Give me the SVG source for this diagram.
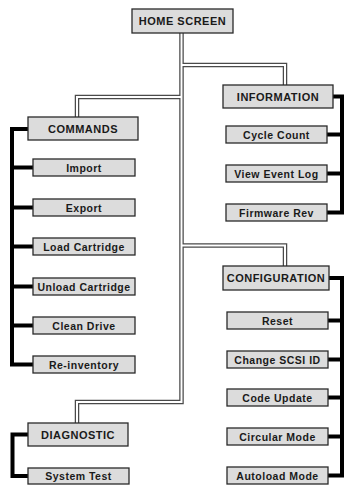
<svg xmlns="http://www.w3.org/2000/svg" width="347" height="485" viewBox="0 0 347 485">
<style>
.bg{fill:#fff}
.tw{fill:none;stroke:#4a4a4a;stroke-width:4.5;stroke-linejoin:miter}
.tw2{fill:none;stroke:#fff;stroke-width:2;stroke-linejoin:miter}
.bus{fill:none;stroke:#000;stroke-width:4;stroke-linejoin:miter}
.box{fill:#dcdcdc;stroke:#2a2a2a;stroke-width:1.3}
.hd{font-family:"Liberation Sans",Arial,sans-serif;font-weight:bold;font-size:11px;letter-spacing:0.5px;fill:#1a1a1a;text-anchor:middle}
.it{font-family:"Liberation Sans",Arial,sans-serif;font-weight:bold;font-size:10.5px;letter-spacing:0.5px;fill:#1a1a1a;text-anchor:middle}
</style>
<rect class="bg" x="0" y="0" width="347" height="485"/>
<g id="connectors">
<path class="tw" d="M181.5,33 V402 H77 V423"/>
<path class="tw" d="M181.5,97 H77 V117"/>
<path class="tw" d="M181.5,65 H285 V85"/>
<path class="tw" d="M181.5,245.5 H285 V266"/>
<path class="tw2" d="M181.5,33 V402 H77 V423"/>
<path class="tw2" d="M181.5,97 H77 V117"/>
<path class="tw2" d="M181.5,65 H285 V85"/>
<path class="tw2" d="M181.5,245.5 H285 V266"/>
<path class="bus" d="M28,129 H12 V364.5 H33 M12,167.5 H33 M12,207.5 H33 M12,246.5 H33 M12,286.5 H33 M12,325.5 H33"/>
<path class="bus" d="M333,96.5 H342 V212.5 H327 M342,134.5 H327 M342,173.5 H327"/>
<path class="bus" d="M329,278 H342 V475.5 H328 M342,320.5 H328 M342,359.5 H328 M342,397.5 H328 M342,436.5 H328"/>
<path class="bus" d="M28,434.5 H12.5 V476 H28"/>
</g>
<g id="home"><rect class="box" x="132" y="9" width="101" height="24"/><text class="hd" x="182.5" y="25">HOME SCREEN</text></g>
<g id="information"><rect class="box" x="223" y="85" width="110" height="23"/><text class="hd" x="278" y="100.5">INFORMATION</text></g>
<g id="cycle"><rect class="box" x="226" y="126" width="101" height="17"/><text class="it" x="276.5" y="138.5">Cycle Count</text></g>
<g id="eventlog"><rect class="box" x="226" y="165" width="101" height="17"/><text class="it" x="276.5" y="177.5">View Event Log</text></g>
<g id="firmware"><rect class="box" x="226" y="204" width="101" height="17"/><text class="it" x="276.5" y="216.5">Firmware Rev</text></g>
<g id="commands"><rect class="box" x="28" y="117" width="110" height="23"/><text class="hd" x="83" y="132.5">COMMANDS</text></g>
<g id="import"><rect class="box" x="33" y="159" width="102" height="17"/><text class="it" x="84" y="171.5">Import</text></g>
<g id="export"><rect class="box" x="33" y="199" width="102" height="17"/><text class="it" x="84" y="211.5">Export</text></g>
<g id="load"><rect class="box" x="33" y="238" width="102" height="17"/><text class="it" x="84" y="250.5">Load Cartridge</text></g>
<g id="unload"><rect class="box" x="33" y="278" width="102" height="17"/><text class="it" x="84" y="290.5">Unload Cartridge</text></g>
<g id="clean"><rect class="box" x="33" y="317" width="102" height="17"/><text class="it" x="84" y="329.5">Clean Drive</text></g>
<g id="reinventory"><rect class="box" x="33" y="356" width="102" height="17"/><text class="it" x="84" y="368.5">Re-inventory</text></g>
<g id="configuration"><rect class="box" x="223" y="266" width="106" height="24"/><text class="hd" x="276" y="282">CONFIGURATION</text></g>
<g id="reset"><rect class="box" x="227" y="312" width="101" height="17"/><text class="it" x="277.5" y="324.5">Reset</text></g>
<g id="scsi"><rect class="box" x="227" y="351" width="101" height="17"/><text class="it" x="277.5" y="363.5">Change SCSI ID</text></g>
<g id="codeupdate"><rect class="box" x="227" y="389" width="101" height="17"/><text class="it" x="277.5" y="401.5">Code Update</text></g>
<g id="circular"><rect class="box" x="227" y="428" width="101" height="17"/><text class="it" x="277.5" y="440.5">Circular Mode</text></g>
<g id="autoload"><rect class="box" x="227" y="467" width="101" height="17"/><text class="it" x="277.5" y="479.5">Autoload Mode</text></g>
<g id="diagnostic"><rect class="box" x="28" y="423" width="100" height="23"/><text class="hd" x="78" y="438.5">DIAGNOSTIC</text></g>
<g id="systemtest"><rect class="box" x="28" y="468" width="101" height="16"/><text class="it" x="78.5" y="480">System Test</text></g>
</svg>
